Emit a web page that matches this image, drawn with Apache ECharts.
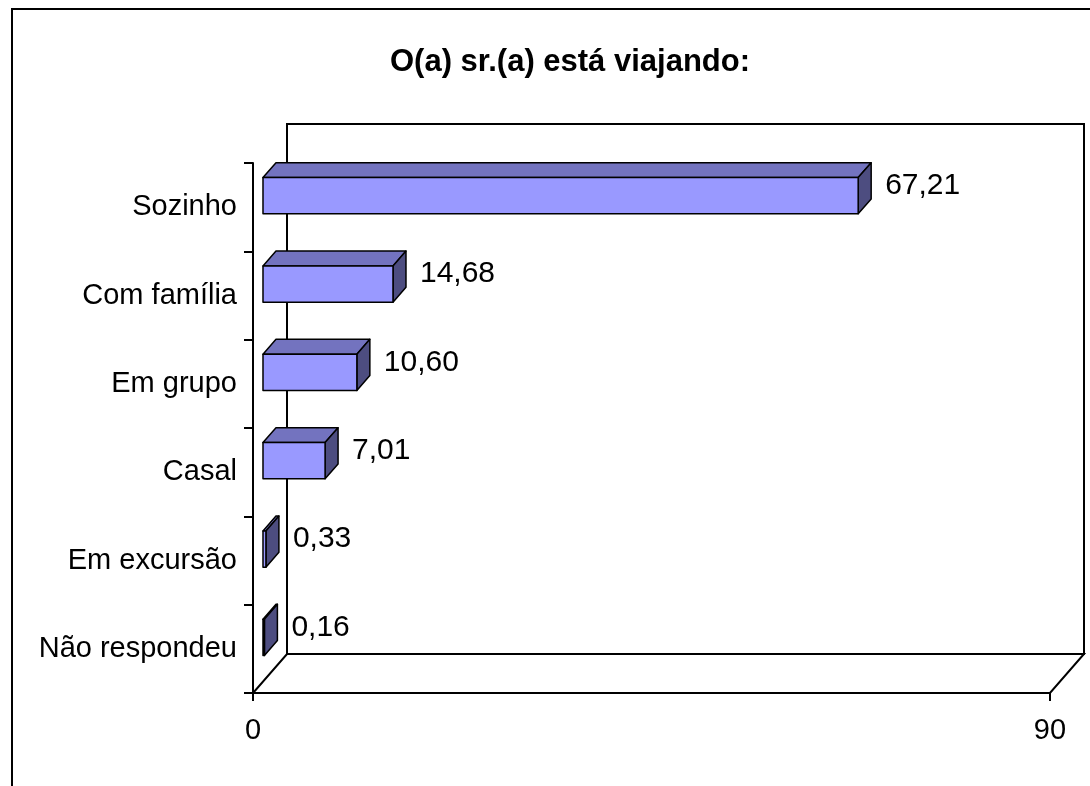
<!DOCTYPE html>
<html>
<head>
<meta charset="utf-8">
<script src="https://cdn.jsdelivr.net/npm/echarts@6/dist/echarts.min.js"></script>
<style>
  html, body { margin: 0; padding: 0; background: #fff; }
  #chart { width: 1090px; height: 786px; }
</style>
</head>
<body>
<div id="chart"></div>
<script>
// ---- data ----
const categories = ['Sozinho', 'Com família', 'Em grupo', 'Casal', 'Em excursão', 'Não respondeu'];
const values = [67.21, 14.68, 10.60, 7.01, 0.33, 0.16];
const axisMin = 0;
const axisMax = 90;
const titleText = 'O(a) sr.(a) está viajando:';

// ---- style / layout ----
const FONT = '"Liberation Sans", Arial, sans-serif';
const DX = 34, DY = -39;           // 3D depth offset of the plot box
const F_FRONT = 0.294, F_BACK = 0.676; // bar depth range (fraction of box depth)
const BAR_FRAC = 0.41;
const C_FRONT = '#9999FF', C_TOP = '#7373BF', C_SIDE = '#4D4D80';

const barData = values.map((v, i) => [v, i]);

function fmt(v) { return v.toFixed(2).replace('.', ','); }

function renderWalls(params, api) {
  const cs = params.coordSys;
  const x = cs.x, y = cs.y, w = cs.width, h = cs.height;
  return {
    type: 'group',
    children: [
      { type: 'rect', shape: { x: x + DX, y: y + DY, width: w, height: h },
        style: { fill: '#fff', stroke: '#000', lineWidth: 2 } },
      { type: 'polygon', shape: { points: [[x, y + h], [x + w, y + h], [x + w + DX, y + h + DY], [x + DX, y + h + DY]] },
        style: { fill: '#fff', stroke: '#000', lineWidth: 2 } }
    ]
  };
}

function renderBar(params, api) {
  const v = api.value(0), idx = api.value(1);
  const base = api.coord([0, idx]);
  const end = api.coord([v, idx]);
  const band = api.size([0, 1])[1];
  const h = band * BAR_FRAC;
  const fx = DX * F_FRONT, fy = DY * F_FRONT;
  const ddx = DX * (F_BACK - F_FRONT), ddy = DY * (F_BACK - F_FRONT);
  const x0 = base[0] + fx, x1 = end[0] + fx;
  const yc = base[1] + fy, yT = yc - h / 2, yB = yc + h / 2;
  const st = { stroke: '#000', lineWidth: 1.5, lineJoin: 'round' };
  return {
    type: 'group',
    children: [
      { type: 'polygon', shape: { points: [[x0, yT], [x1, yT], [x1 + ddx, yT + ddy], [x0 + ddx, yT + ddy]] },
        style: Object.assign({ fill: C_TOP }, st) },
      { type: 'polygon', shape: { points: [[x1, yT], [x1, yB], [x1 + ddx, yB + ddy], [x1 + ddx, yT + ddy]] },
        style: Object.assign({ fill: C_SIDE }, st) },
      { type: 'rect', shape: { x: x0, y: yT, width: Math.max(x1 - x0, 0.01), height: h },
        style: Object.assign({ fill: C_FRONT }, st) },
      { type: 'text', x: x1 + ddx + 14, y: yc - 10,
        style: { text: fmt(v), fill: '#000', font: '30px ' + FONT, align: 'left', verticalAlign: 'middle' } }
    ]
  };
}

const chart = echarts.init(document.getElementById('chart'), null, { renderer: 'canvas' });
chart.setOption({
  backgroundColor: '#fff',
  animation: false,
  title: {
    text: titleText,
    left: 390,
    top: 47,
    padding: 0,
    textStyle: { fontFamily: FONT, fontSize: 31, fontWeight: 'bold', color: '#000' }
  },
  graphic: [
    { type: 'rect', shape: { x: 12, y: 9, width: 1100, height: 800 },
      style: { fill: 'none', stroke: '#000', lineWidth: 2 }, z: 100 }
  ],
  grid: { left: 253, top: 163, width: 797, height: 530, containLabel: false },
  xAxis: {
    type: 'value', min: axisMin, max: axisMax, interval: axisMax - axisMin,
    axisLine: { show: true, lineStyle: { color: '#000', width: 2 } },
    axisTick: { show: true, length: 8, lineStyle: { color: '#000', width: 2 } },
    axisLabel: { fontFamily: FONT, fontSize: 29, color: '#000', margin: 23 },
    splitLine: { show: false }
  },
  yAxis: {
    type: 'category', data: categories, inverse: true, boundaryGap: true,
    axisLine: { show: true, lineStyle: { color: '#000', width: 2 } },
    axisTick: { show: true, length: 9, lineStyle: { color: '#000', width: 2 } },
    axisLabel: { fontFamily: FONT, fontSize: 29, color: '#000', margin: 16 },
    splitLine: { show: false }
  },
  series: [
    { type: 'custom', name: 'walls', data: [[0, 0]], renderItem: renderWalls, z: 1, silent: true },
    { type: 'custom', name: 'bars', data: barData, encode: { x: 0, y: 1 }, renderItem: renderBar, z: 5 }
  ]
});
</script>
</body>
</html>
